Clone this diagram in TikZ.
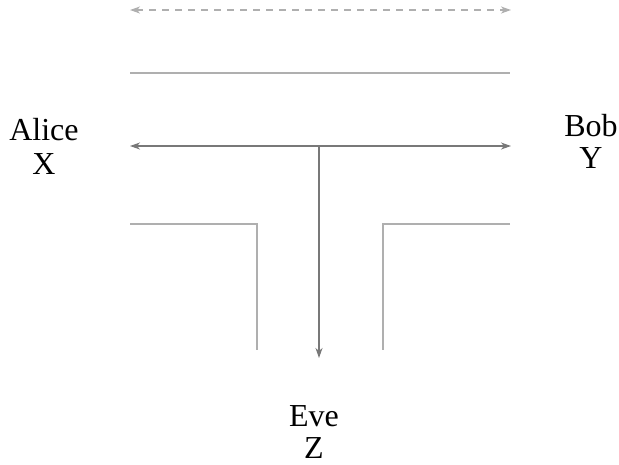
\documentclass[tikz,border=0pt]{standalone}
\usepackage{fontspec}
\setmainfont{Liberation Serif}
\usetikzlibrary{arrows.meta}
\definecolor{linegray}{RGB}{175,175,175}
\definecolor{arrowgray}{RGB}{120,120,120}
\begin{document}
\begin{tikzpicture}[x=1pt,y=-1pt,
  wall/.style={draw=linegray,line width=2pt},
  chan/.style={draw=arrowgray,line width=1.2pt},
  tip/.style={-{Stealth[length=10pt,width=7pt,inset=3pt]}},
  biway/.style={{Stealth[length=10pt,width=7pt,inset=3pt]}-{Stealth[length=10pt,width=7pt,inset=3pt]}},
  lab/.style={font=\fontsize{32}{32}\selectfont,align=center,anchor=base,inner sep=0pt}]
\useasboundingbox (0,0) rectangle (619,464);
% coordinates
\coordinate (dl) at (130,10);
\coordinate (dr) at (511,10);
\coordinate (tl) at (130,73);
\coordinate (tr) at (510,73);
\coordinate (al) at (130,146);
\coordinate (ar) at (511,146);
\coordinate (m) at (319,146);
\coordinate (mb) at (319,358);
\coordinate (l1) at (130,224);
\coordinate (l2) at (257,224);
\coordinate (l3) at (257,350);
\coordinate (r1) at (510,224);
\coordinate (r2) at (383,224);
\coordinate (r3) at (383,350);
% lines
\draw[draw=linegray,line width=2pt,dash pattern=on 7pt off 6pt,biway] (dl) -- (dr);
\draw[wall] (tl) -- (tr);
\draw[chan,biway] (al) -- (ar);
\draw[chan,tip] (m) -- (mb);
\draw[wall] (l1) -- (l2) -- (l3);
\draw[wall] (r1) -- (r2) -- (r3);
% labels
\node[lab] (alice) at (44,174) {Alice\\[2pt]X};
\node[lab] (bob) at (591,168) {Bob\\Y};
\node[lab] (eve) at (314,458) {Eve\\Z};
\end{tikzpicture}
\end{document}
